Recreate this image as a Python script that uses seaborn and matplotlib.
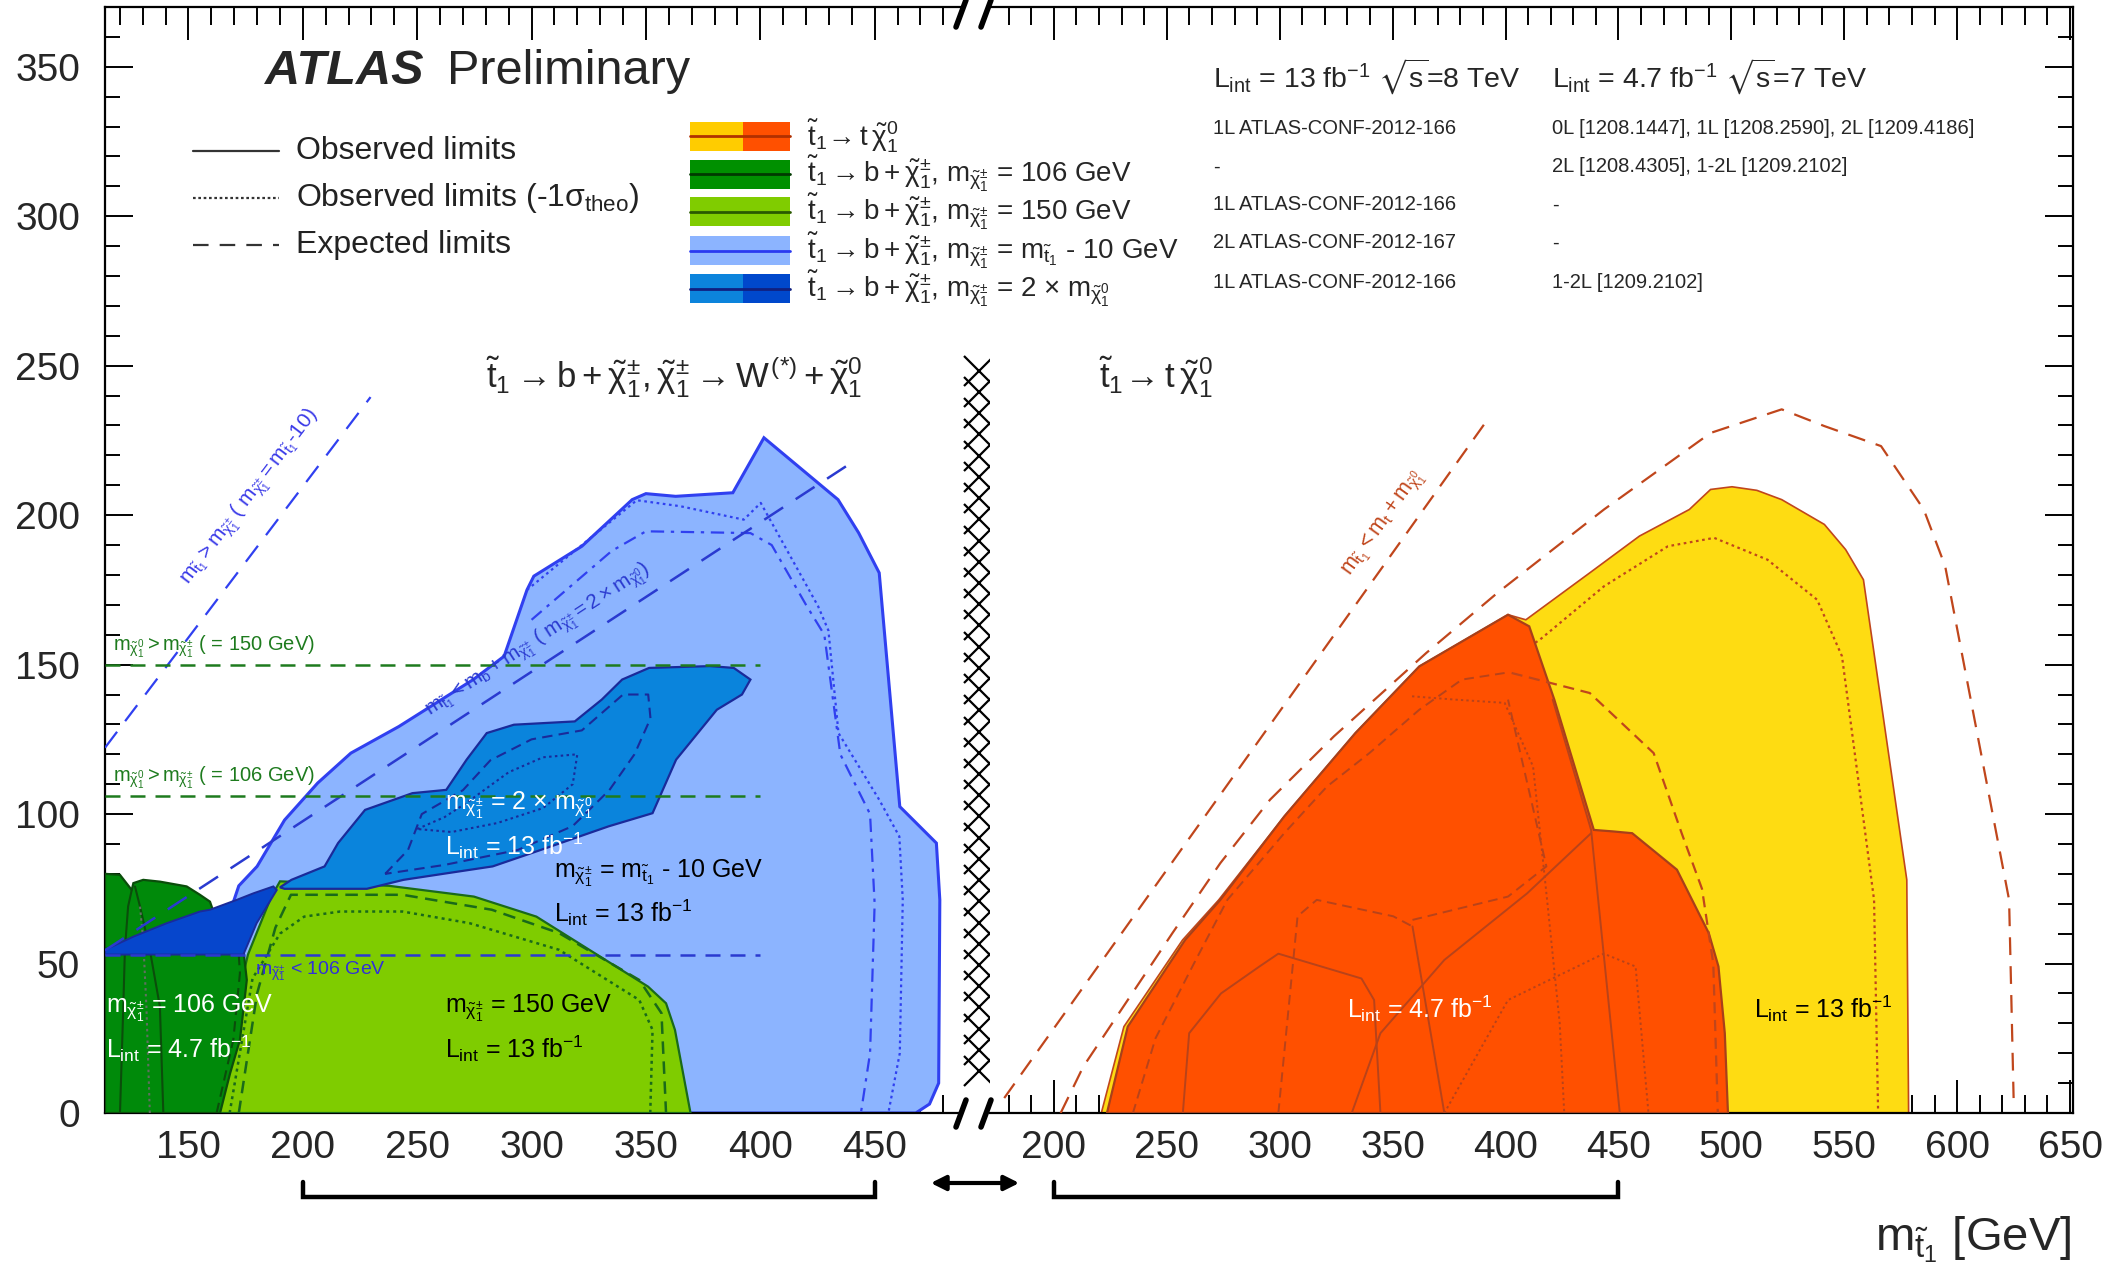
import numpy as np
import pandas as pd
import matplotlib
matplotlib.use('Agg')
import matplotlib.pyplot as plt
import seaborn as sns
from matplotlib.patches import Rectangle
from matplotlib.lines import Line2D
from matplotlib.ticker import MultipleLocator
from matplotlib.transforms import blended_transform_factory

sns.set_theme(style='ticks')
plt.rcParams['font.family'] = ['Liberation Sans', 'DejaVu Sans']
plt.rcParams['mathtext.fontset'] = 'custom'
plt.rcParams['mathtext.rm'] = 'Liberation Sans'
plt.rcParams['mathtext.it'] = 'Liberation Sans'
plt.rcParams['mathtext.bf'] = 'Liberation Sans:bold'
plt.rcParams['mathtext.sf'] = 'Liberation Sans'
plt.rcParams['mathtext.fallback'] = 'stixsans'

# ---- left panel: stop -> b + chargino ----
# m_chargino = m_stop - 10 GeV (2L, 13 fb-1)
lb_x = [165, 165, 172, 180, 192, 206.5, 221, 242, 274.5, 288, 298, 301, 322, 344, 350, 363, 388,
        401.6, 434, 443, 452, 461, 477, 478.5, 478, 474, 468, 165]
lb_y = [0, 60, 76, 82.5, 98, 110.4, 120.4, 129.3, 145, 152.8, 175, 179.6, 189.6, 205.2, 207.2, 206.3,
        207.5, 225.9, 205.2, 194.1, 180.7, 102.5, 90.3, 71.3, 10, 3, 0, 0]
lb_dot_x = [298, 322, 346, 365, 392.8, 400.2, 425.3, 429.8, 434.2, 452, 460.8, 462.3, 461, 456]
lb_dot_y = [175, 190, 205, 203, 198.5, 204.1, 169.5, 161.4, 127.1, 104.8, 92.5, 71.3, 20, 0]
lb_exp_x = [300, 335, 350, 395.7, 405, 420, 428, 435, 448, 450, 448, 444]
lb_exp_y = [165, 188, 194.6, 194, 190, 170, 160, 120, 100, 70, 20, 0]

# m_chargino = 150 GeV (1L, 13 fb-1)
lg_x = [163.6, 172, 176, 186, 190, 237.7, 274.8, 302.1, 350.9, 358.8, 362.7, 369.5]
lg_y = [0, 40, 53, 72, 77.5, 76, 72.4, 65.7, 42.3, 36.7, 27.8, 0]
lg_exp_x = [172, 180, 188, 194.8, 243.6, 282.6, 312, 347.1, 356.8, 358.8]
lg_exp_y = [0, 40, 62, 73, 73, 68, 60.2, 44.5, 33.4, 0]
lg_dot_x = [168, 178, 190, 200.6, 216.3, 243.6, 272.9, 312, 347.1, 352.9, 351.9]
lg_dot_y = [0, 45, 60, 65.7, 67.4, 67.4, 63.5, 54.6, 37.8, 27.8, 0]

# m_chargino = 2 x m_neutralino (1L, 13 fb-1)
mb_x = [190, 195, 209.5, 215.4, 227.2, 247.9, 262.7, 271.6, 280.4, 292.3, 318.9, 330.7, 339.6, 351.4,
        378, 388.4, 395.7, 392, 381, 363.2, 352.9, 333.7, 304, 283, 263, 244, 228, 192]
mb_y = [75.5, 78, 82.5, 90.3, 101.4, 107, 108.1, 118.2, 127.1, 129.9, 131, 138.3, 145, 148.9,
        149.5, 148.9, 145, 140, 134.9, 118.2, 100.3, 95.9, 88, 82.5, 80.2, 78, 75, 75]
mb_exp_x = [236, 246, 252, 270, 282, 300, 322, 340, 351, 352, 345, 334, 318, 294, 262, 236]
mb_exp_y = [80, 88, 100, 108, 118, 125, 128, 140, 140, 132, 120, 108, 96, 88, 83, 80]
mb_dot_x = [250, 262, 272, 290, 305, 320, 318, 305, 285, 265, 250]
mb_dot_y = [95, 99, 104, 114, 119, 120, 110, 102, 97, 94, 95]

# m_chargino = 2 x m_neutralino (4.7 fb-1)
db_x = [113.5, 113.5, 125.9, 140.5, 155, 159.4, 171.1, 178.4, 187.1, 188.6, 179.8, 174]
db_y = [53, 54.6, 59, 63.5, 67.4, 68, 71.3, 73.5, 75.8, 74.6, 63.5, 53]

# m_chargino = 106 GeV (4.7 fb-1)
dg_x = [113.5, 113.5, 120, 125.2, 125.9, 130.2, 137.5, 149.2, 155, 159.4, 160.9, 171.1, 174, 175.5,
        172.5, 168.2, 163.8]
dg_y = [0, 80, 79.7, 74.6, 76.9, 78, 77.4, 75.8, 73, 70.7, 67.4, 65.7, 54.6, 44.5, 24.5, 13.3, 0]
dg_l1_x = [120, 120.1, 121.5, 122.2, 123.6, 125.2]
dg_l1_y = [0, 1.1, 35.6, 54.6, 69.1, 74.6]
dg_l2_x = [139, 137.5, 133.1, 128.8, 126.6]
dg_l2_y = [0, 35.6, 54.6, 69.1, 75.8]
dg_l3_x = [133.1, 131.6, 130.2, 128.8]
dg_l3_y = [0, 35.6, 58, 69.1]
dg_l4_x = [162.3, 169.6, 172.5, 171.1, 159.4]
dg_l4_y = [0, 24.5, 46.8, 63.5, 65.7]

# kinematic / LEP lines, left panel
kin1_x = [113.5, 229.6]
kin1_y = [122.2, 239.5]
kin2_x = [113.5, 442]
kin2_y = [54.4, 218.6]
lep_x = [113.5, 400]
lep150_y = [150, 150]
lep106_y = [106, 106]
lep53_y = [53, 53]

# ---- right panel: stop -> t + neutralino ----
ye_x = [221, 231, 257, 273, 302, 333.5, 361.8, 401.1, 409, 437.3, 459.3, 481.4, 490.8, 500.3, 511.3,
        522.3, 541.2, 550.6, 558.5, 577.7, 578.5]
ye_y = [0, 28.9, 57.9, 71.3, 99.2, 127.1, 149.4, 166.7, 165, 180.7, 193, 201.9, 208.6, 209.5, 208.3,
        205.2, 196.9, 188.5, 178.4, 78, 0]
ye_dot_x = [262, 300, 340, 370, 393.3, 415.3, 443.6, 471.9, 492.4, 516, 538, 549, 563.2, 565]
ye_dot_y = [55, 95, 125, 140, 147.2, 158.4, 176.2, 189.6, 192.4, 185.1, 171.7, 152.8, 71.3, 0]
ye_exp_x = [203, 213, 252.5, 273.7, 295.7, 324, 364.9, 396.4, 443.6, 490.8, 522.3, 541.2, 566.3,
            585.2, 594.7, 623, 625]
ye_exp_y = [0, 15.5, 60.2, 83.6, 104.8, 126, 153.9, 174, 201.9, 227.5, 235.4, 229.8, 223.1,
            201.9, 182.9, 71.3, 5]

or_x = [223.5, 232.7, 258.1, 273.7, 302, 333.5, 361.8, 401.1, 410.5, 421.6, 439.1, 447.6, 456.1,
        475.9, 490, 494.3, 497.1, 498.5]
or_y = [0, 28.9, 57.9, 71.3, 99.2, 127.1, 149.4, 166.7, 162.8, 138.3, 94.7, 94.2, 93.6, 81.4, 60.2,
        49, 26.7, 0]
or_a_x = [257.1, 259.9, 274, 291, 299.4, 336.2, 341.8, 344.6]
or_a_y = [0, 26.7, 40, 49, 53.3, 45, 37.8, 0]
or_b_x = [331.9, 344.6, 372.9, 409.6, 437.9]
or_b_y = [0, 26.7, 51.2, 73.5, 93.6]
or_c_x = [420.9, 437.9, 450.6]
or_c_y = [138.3, 94.7, 0]
or_d_x = [299.4, 307.9, 316.4, 350.3, 358.8]
or_d_y = [0, 65.8, 71.3, 65.8, 62.4]
or_e_x = [358.8, 372.9]
or_e_y = [62.4, 0]
or_f_x = [358.8, 401.1, 418.1, 401.1]
or_f_y = [64.6, 72.4, 82.5, 138.3]
or_g_x = [372.9, 401.1, 443.5, 457.6, 463.3]
or_g_y = [0, 37.8, 53.3, 49, 0]
or_h_x = [358.6, 377.5, 399.6, 412.2, 418.4, 424, 426]
or_h_y = [139.4, 138.3, 137.2, 115.9, 71.3, 30, 0]
or_j_x = [399.6, 380.7, 361.8, 339.7, 320.9, 302, 276.8, 262, 245, 235]
or_j_y = [147.2, 145, 134.9, 120.4, 109.2, 93.6, 71.3, 50, 25, 0]
or_exp_x = [402.7, 437.3, 465.6, 478, 487, 492, 494]
or_exp_y = [147.2, 140.5, 120.4, 93.6, 75, 50, 0]

kin3_x = [178, 393]
kin3_y = [5, 233]

# ---- figure geometry (pixels of the 2113x1281 canvas) ----
W, H = 2113, 1281
fig = plt.figure(figsize=(W / 100, H / 100), dpi=100)


def fx(px):
    return px / W


def fy(py):
    return 1 - py / H


ax1 = fig.add_axes([fx(105), fy(1113), fx(962) - fx(105), (1113 - 7) / H])
ax2 = fig.add_axes([fx(990), fy(1113), fx(2073) - fx(990), (1113 - 7) / H])


def curve(ax, xs, ys, color, ls='-', lw=1.6, z=5):
    d = pd.DataFrame({'x': xs, 'y': ys})
    sns.lineplot(data=d, x='x', y='y', sort=False, estimator=None, ax=ax, color=color,
                 lw=lw, ls=ls, zorder=z)


BLUE = '#3040F0'
DKBLUE = '#1A2A9A'
DKGREEN = '#0B4D0B'
GREEN_LINE = '#1E7B1E'
RED = '#C0461C'

DOT = (0, (1.2, 1.6))
DASH = (0, (5, 3))

# left panel fills
ax1.fill(lb_x, lb_y, facecolor='#8CB4FF', edgecolor=BLUE, lw=2.2, zorder=1)
curve(ax1, lb_dot_x, lb_dot_y, BLUE, DOT, 1.6, 2)
curve(ax1, lb_exp_x, lb_exp_y, BLUE, (0, (6, 3, 1.5, 3)), 1.6, 2)
ax1.fill(lg_x, lg_y, facecolor='#7FCC00', edgecolor='#1A6A1A', lw=1.6, zorder=3)
curve(ax1, lg_exp_x, lg_exp_y, '#1A6A1A', DASH, 1.8, 3.5)
curve(ax1, lg_dot_x, lg_dot_y, '#1A6A1A', DOT, 1.8, 3.5)
ax1.fill(mb_x, mb_y, facecolor='#0A84DC', edgecolor=DKBLUE, lw=1.6, zorder=4)
curve(ax1, mb_exp_x, mb_exp_y, DKBLUE, DASH, 1.5, 4.5)
curve(ax1, mb_dot_x, mb_dot_y, DKBLUE, DOT, 1.5, 4.5)
ax1.fill(dg_x, dg_y, facecolor='#008A0A', edgecolor=DKGREEN, lw=1.6, zorder=5)
for lx, ly, st in [(dg_l1_x, dg_l1_y, '-'), (dg_l2_x, dg_l2_y, '-'),
                   (dg_l3_x, dg_l3_y, DOT), (dg_l4_x, dg_l4_y, DASH)]:
    curve(ax1, lx, ly, DKGREEN if st != DOT else '#607060', st, 1.5, 5.5)
ax1.fill(db_x, db_y, facecolor='#0646CC', edgecolor=DKBLUE, lw=1.4, zorder=6)

curve(ax1, kin1_x, kin1_y, BLUE, (0, (9, 6)), 1.6, 7)
curve(ax1, kin2_x, kin2_y, '#2A3AD0', (0, (9, 6)), 1.8, 7)
curve(ax1, lep_x, lep150_y, GREEN_LINE, (0, (6, 4)), 1.8, 7)
curve(ax1, lep_x, lep106_y, GREEN_LINE, (0, (6, 4)), 1.8, 7)
curve(ax1, lep_x, lep53_y, '#2A3AD0', (0, (6, 4)), 1.8, 7)

# right panel fills
ax2.fill(ye_x, ye_y, facecolor='#FEDC12', edgecolor=RED, lw=1.2, zorder=1)
curve(ax2, ye_dot_x, ye_dot_y, RED, DOT, 1.6, 2)
ax2.fill(or_x, or_y, facecolor='#FF5000', edgecolor='#A8401A', lw=1.6, zorder=3)
for lx, ly, st in [(or_a_x, or_a_y, '-'), (or_b_x, or_b_y, '-'), (or_c_x, or_c_y, '-'),
                   (or_d_x, or_d_y, DASH), (or_e_x, or_e_y, '-'), (or_f_x, or_f_y, DASH),
                   (or_g_x, or_g_y, DOT), (or_h_x, or_h_y, DOT), (or_j_x, or_j_y, DASH)]:
    curve(ax2, lx, ly, '#B8431A', st, 1.4, 4)
curve(ax2, or_exp_x, or_exp_y, RED, DASH, 1.6, 4)
curve(ax2, ye_exp_x, ye_exp_y, RED, (0, (8, 5)), 1.6, 4)
curve(ax2, kin3_x, kin3_y, RED, (0, (8, 5)), 1.6, 4)

# axes styling
for ax in (ax1, ax2):
    ax.set_ylim(0, 370)
    ax.set_xlabel('')
    ax.set_ylabel('')
    ax.set_facecolor('white')
    ax.xaxis.set_major_locator(MultipleLocator(50))
    ax.xaxis.set_minor_locator(MultipleLocator(10))
    ax.yaxis.set_major_locator(MultipleLocator(50))
    ax.yaxis.set_minor_locator(MultipleLocator(10))
    for s in ax.spines.values():
        s.set_linewidth(1.6)
        s.set_color('black')
    ax.tick_params(axis='x', which='major', direction='in', length=24, width=1.4, top=True,
                   labelsize=28, pad=12, color='black')
    ax.tick_params(axis='x', which='minor', direction='in', length=13, width=1.4, top=True,
                   color='black')
    ax.tick_params(axis='y', which='major', direction='in', length=20, width=1.4, labelsize=28,
                   pad=18, color='black')
    ax.tick_params(axis='y', which='minor', direction='in', length=11, width=1.4, color='black')

ax1.set_xlim(113.5, 488.2)
ax2.set_xlim(171.7, 651.3)
ax1.spines['right'].set_visible(False)
ax2.spines['left'].set_visible(False)
ax1.tick_params(axis='y', which='both', left=True, right=False)
ax2.tick_params(axis='y', which='both', left=False, right=True, labelleft=False)
ax1.set_xticks([150, 200, 250, 300, 350, 400, 450])
ax2.set_xticks([200, 250, 300, 350, 400, 450, 500, 550, 600, 650])

# region labels
white = 'white'
lab = 18
ax1.text(262, 103, r'$m_{\tilde{\chi}^{\pm}_1}$ = 2 $\times$ $m_{\tilde{\chi}^0_1}$', color=white,
         fontsize=lab, va='center', zorder=10)
ax1.text(262, 89.5, r'$L_{int}$ = 13 fb$^{-1}$', color=white, fontsize=lab, va='center', zorder=10)
ax1.text(310, 80, r'$m_{\tilde{\chi}^{\pm}_1}$ = $m_{\tilde{t}_1}$ - 10 GeV', color='black',
         fontsize=lab, va='center', zorder=10)
ax1.text(310, 67, r'$L_{int}$ = 13 fb$^{-1}$', color='black', fontsize=lab, va='center', zorder=10)
ax1.text(179, 47.5, r'$m_{\tilde{\chi}^{\pm}_1}$ < 106 GeV', color='#3030D8', fontsize=14,
         va='center', zorder=10)
ax1.text(114, 35, r'$m_{\tilde{\chi}^{\pm}_1}$ = 106 GeV', color=white, fontsize=lab, va='center',
         zorder=10)
ax1.text(114, 21.5, r'$L_{int}$ = 4.7 fb$^{-1}$', color=white, fontsize=lab, va='center', zorder=10)
ax1.text(262, 35, r'$m_{\tilde{\chi}^{\pm}_1}$ = 150 GeV', color='black', fontsize=lab, va='center',
         zorder=10)
ax1.text(262, 21.5, r'$L_{int}$ = 13 fb$^{-1}$', color='black', fontsize=lab, va='center', zorder=10)
ax1.text(117, 156, r'$m_{\tilde{\chi}^0_1} > m_{\tilde{\chi}^{\pm}_1}$ ( = 150 GeV)', color=GREEN_LINE,
         fontsize=14.5, va='center', zorder=10)
ax1.text(117, 112, r'$m_{\tilde{\chi}^0_1} > m_{\tilde{\chi}^{\pm}_1}$ ( = 106 GeV)', color=GREEN_LINE,
         fontsize=14.5, va='center', zorder=10)
ax1.text(177, 206, r'$m_{\tilde{t}_1} > m_{\tilde{\chi}^{\pm}_1}$ ( $m_{\tilde{\chi}^{\pm}_1} = m_{\tilde{t}_1}$-10)',
         color='#3A3AE8', fontsize=15, rotation=52.8, ha='center', va='center', zorder=10)
ax1.text(303, 158, r'$m_{\tilde{t}_1} < m_b+m_{\tilde{\chi}^{\pm}_1}$ ( $m_{\tilde{\chi}^{\pm}_1} = 2\times m_{\tilde{\chi}^0_1}$)',
         color='#2A3AD0', fontsize=15, rotation=33.1, ha='center', va='center', zorder=10)
ax1.text(280, 246, r'$\tilde{t}_1 \rightarrow b+\tilde{\chi}^{\pm}_1, \tilde{\chi}^{\pm}_1 \rightarrow W^{(*)}+\tilde{\chi}^0_1$',
         fontsize=25, va='center', zorder=10)
ax2.text(220, 246, r'$\tilde{t}_1\!\rightarrow t\,\tilde{\chi}^0_1$', fontsize=25, va='center', zorder=10)
ax2.text(330, 35, r'$L_{int}$ = 4.7 fb$^{-1}$', color=white, fontsize=lab, va='center', zorder=10)
ax2.text(510, 35, r'$L_{int}$ = 13 fb$^{-1}$', color='black', fontsize=lab, va='center', zorder=10)
ax2.text(346, 197, r'$m_{\tilde{t}_1} < m_t+m_{\tilde{\chi}^0_1}$', color=RED, fontsize=15.5,
         rotation=54.5, ha='center', va='center', zorder=10)

# brackets under the axis
for ax in (ax1, ax2):
    tr = blended_transform_factory(ax.transData, ax.transAxes)
    ax.plot([200, 200, 450, 450], [-0.062, -0.076, -0.076, -0.062], color='black', lw=3.2,
            transform=tr, clip_on=False, solid_joinstyle='miter')
fig.add_artist(matplotlib.patches.FancyArrowPatch((fx(928), fy(1183)), (fx(1022), fy(1183)),
                                                  transform=fig.transFigure, arrowstyle='<|-|>',
                                                  mutation_scale=22, lw=3, color='black'))

# hatched column between the panels
trx = blended_transform_factory(fig.transFigure, ax1.transData)
col_y = np.arange(14, 250, 7.1)
ax1.plot(np.full(len(col_y), fx(979)), col_y, ls='none', marker='x', ms=21, mew=1.6,
         color='black', transform=trx, clip_on=False, zorder=10)

# axis break marks
for x0 in (956, 981):
    for yb in (27, 1127):
        fig.add_artist(Line2D([fx(x0), fx(x0 + 10)], [fy(yb), fy(yb - 27)], lw=4, color='black'))

fig.text(fx(2071), fy(1240), r'$m_{\tilde{t}_1}$ [GeV]', fontsize=34, ha='right', va='center')

# header
fig.text(fx(265), fy(72), 'ATLAS', fontsize=35, weight='bold', style='italic', va='center')
fig.text(fx(447), fy(72), 'Preliminary', fontsize=35, va='center')

leg_y = [151, 198, 245]
leg_txt = ['Observed limits', r'Observed limits (-1$\sigma_{theo}$)', 'Expected limits']
leg_ls = ['-', (0, (1.2, 1.2)), (0, (7, 5))]
for yy, tt, st in zip(leg_y, leg_txt, leg_ls):
    fig.add_artist(Line2D([fx(193), fx(279)], [fy(yy), fy(yy)], lw=1.6, ls=st, color='#333333'))
    fig.text(fx(296), fy(yy), tt, fontsize=23, va='center', color='#222222')

box_y = [136.4, 174.2, 211.7, 250.9, 288.5]
box_left = ['#FFCC00', '#009000', '#80CC00', '#8CB4FF', '#0C84DC']
box_right = ['#FF5000', '#009000', '#80CC00', '#8CB4FF', '#0048CC']
box_line = ['#B03000', '#003A00', '#2A5A00', '#2A3AF0', '#102080']
proc_txt = [r'$\tilde{t}_1\!\rightarrow t\,\tilde{\chi}^0_1$',
            r'$\tilde{t}_1 \rightarrow b+\tilde{\chi}^{\pm}_1$, $m_{\tilde{\chi}^{\pm}_1}$ = 106 GeV',
            r'$\tilde{t}_1 \rightarrow b+\tilde{\chi}^{\pm}_1$, $m_{\tilde{\chi}^{\pm}_1}$ = 150 GeV',
            r'$\tilde{t}_1 \rightarrow b+\tilde{\chi}^{\pm}_1$, $m_{\tilde{\chi}^{\pm}_1}$ = $m_{\tilde{t}_1}$ - 10 GeV',
            r'$\tilde{t}_1 \rightarrow b+\tilde{\chi}^{\pm}_1$, $m_{\tilde{\chi}^{\pm}_1}$ = 2 $\times$ $m_{\tilde{\chi}^0_1}$']
for yy, cl, cr, cline, tt in zip(box_y, box_left, box_right, box_line, proc_txt):
    fig.add_artist(Rectangle((fx(690), fy(yy + 14.5)), fx(743) - fx(690), 29 / H, facecolor=cl,
                             edgecolor='none', transform=fig.transFigure))
    fig.add_artist(Rectangle((fx(743), fy(yy + 14.5)), fx(790) - fx(743), 29 / H, facecolor=cr,
                             edgecolor='none', transform=fig.transFigure))
    fig.add_artist(Line2D([fx(690), fx(790)], [fy(yy), fy(yy)], lw=2, color=cline))
    fig.text(fx(807), fy(yy), tt, fontsize=20, va='center')

fig.text(fx(1213), fy(77), r'$L_{int}$ = 13 fb$^{-1}$ $\sqrt{s}$=8 TeV', fontsize=20.5, va='center')
fig.text(fx(1552), fy(77), r'$L_{int}$ = 4.7 fb$^{-1}$ $\sqrt{s}$=7 TeV', fontsize=20.5, va='center')
ref_y = [128, 167, 205, 243, 282]
ref8 = ['1L ATLAS-CONF-2012-166', '-', '1L ATLAS-CONF-2012-166', '2L ATLAS-CONF-2012-167',
        '1L ATLAS-CONF-2012-166']
ref7 = ['0L [1208.1447], 1L [1208.2590], 2L [1209.4186]', '2L [1208.4305], 1-2L [1209.2102]', '-', '-',
        '1-2L [1209.2102]']
for yy, a, b in zip(ref_y, ref8, ref7):
    fig.text(fx(1213), fy(yy), a, fontsize=14.5, va='center')
    fig.text(fx(1552), fy(yy), b, fontsize=14.5, va='center')

fig.savefig('out.png', dpi=100)
